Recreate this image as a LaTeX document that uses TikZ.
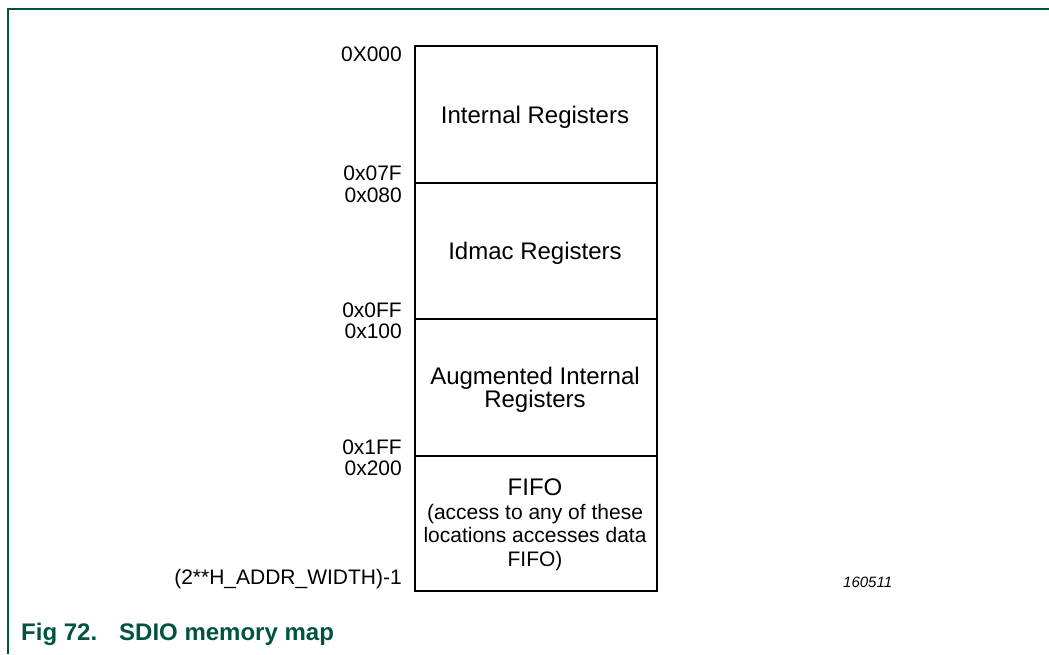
\documentclass[tikz,border=0pt]{standalone}
\usepackage{fontspec}
\setmainfont{Liberation Sans}
\definecolor{nxpgreen}{RGB}{0,84,62}
\begin{document}
\begin{tikzpicture}[x=1pt,y=-1pt,
  frame/.style={draw=nxpgreen,line width=1.5pt},
  region/.style={draw=black,line width=2pt,minimum width=242pt,anchor=north west,inner sep=0pt},
  addr/.style={anchor=east,inner sep=0pt,font=\fontsize{21}{21}\selectfont},
  boxtxt/.style={align=center,inner sep=0pt,font=\fontsize{24}{23.5}\selectfont}]
\useasboundingbox (0,0) rectangle (1049,654);
\draw[frame] (1049,9) -- (8,9) -- (8,654);
% regions
\node[region,minimum height=137pt] (r1) at (414,45) {};
\node[region,minimum height=136pt] (r2) at (414,182) {};
\node[region,minimum height=137pt] (r3) at (414,318) {};
\node[region,minimum height=135pt] (r4) at (414,455) {};
\node[boxtxt] (t1) at (535,117) {Internal Registers};
\node[boxtxt] (t2) at (535,253) {Idmac Registers};
\node[boxtxt] (t3) at (535,390) {Augmented Internal\\Registers};
\node[boxtxt] (t4) at (535,525) {FIFO\\{\fontsize{21}{23.5}\selectfont (access to any of these}\\{\fontsize{21}{23.5}\selectfont locations accesses data}\\{\fontsize{21}{23.5}\selectfont FIFO)}};
% addresses
\node[addr] (a1) at (402,54) {0X000};
\node[addr] (a2) at (402,173) {0x07F};
\node[addr] (a3) at (402,195) {0x080};
\node[addr] (a4) at (402,310) {0x0FF};
\node[addr] (a5) at (402,331) {0x100};
\node[addr] (a6) at (402,447) {0x1FF};
\node[addr] (a7) at (402,468) {0x200};
\node[addr] (a8) at (402,579) {(2**H\_ADDR\_WIDTH)-1};
\node[anchor=west,inner sep=0pt,font=\fontsize{15}{15}\selectfont\itshape] (id) at (843,582) {160511};
\node[anchor=west,inner sep=0pt,text=nxpgreen,font=\fontsize{24}{24}\selectfont\bfseries] (cap) at (21,634) {Fig 72.\hspace{22pt}SDIO memory map};
\end{tikzpicture}
\end{document}
